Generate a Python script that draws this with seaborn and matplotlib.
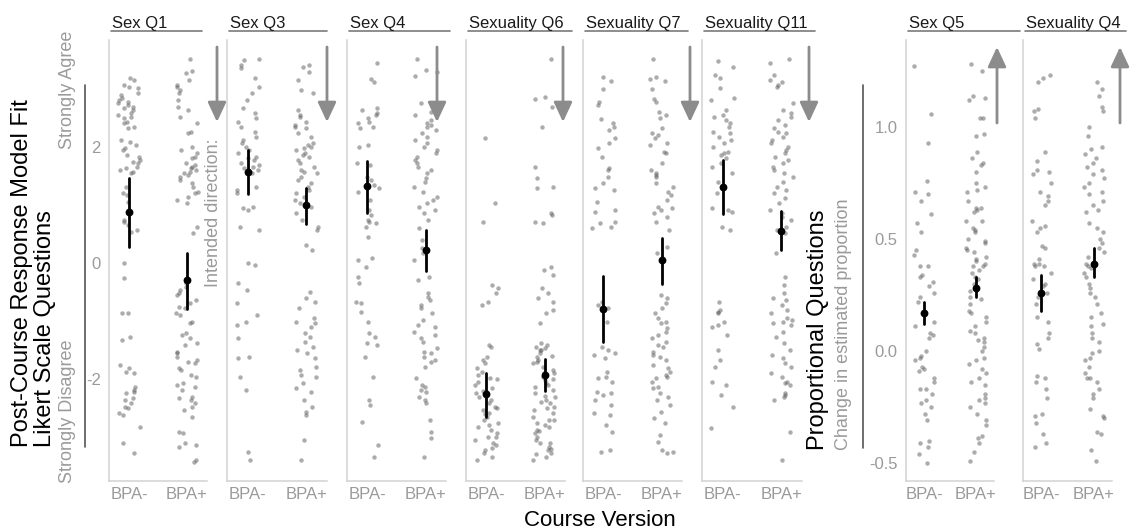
import numpy as np
import pandas as pd
import matplotlib
matplotlib.use("Agg")
import matplotlib.pyplot as plt
import seaborn as sns
from matplotlib.lines import Line2D

# ---------------- data ----------------
facets = ["Sex Q1", "Sex Q3", "Sex Q4", "Sexuality Q6", "Sexuality Q7",
          "Sexuality Q11", "Sex Q5", "Sexuality Q4"]
versions = ["BPA-", "BPA+"]

sex_q1_minus = [3.19, 3.16, 3.07, 3.03, 3.02, 2.93, 2.90, 2.84, 2.81, 2.78, 2.76, 2.72, 2.69, 2.67,
                2.64, 2.59, 2.55, 2.52, 2.50, 2.43, 2.41, 2.34, 2.33, 2.12, 2.09, 2.03, 1.98, 1.95,
                1.86, 1.83, 1.78, 1.74, 1.72, 1.66, 1.64, 1.60, 1.57, 1.55, 1.31, 1.21, 1.17, 1.05,
                0.74, 0.71, 0.66, 0.57, 0.53, 0.0, -0.26, -0.86, -0.86, -1.33, -1.28, -1.76, -1.81,
                -1.88, -1.90, -2.14, -2.19, -2.22, -2.24, -2.33, -2.36, -2.41, -2.48, -2.50, -2.59,
                -2.62, -2.83, -3.10, -3.28]
sex_q1_plus = [3.52, 3.31, 3.28, 3.16, 3.07, 3.03, 2.98, 2.93, 2.81, 2.69, 2.64, 2.52, 2.41, 2.26,
               2.24, 2.0, 1.95, 1.90, 1.83, 1.81, 1.72, 1.69, 1.66, 1.64, 1.60, 1.57, 1.55, 1.52,
               1.48, 1.43, 1.38, 1.31, 1.22, 1.21, 1.14, 1.09, 1.03, 0.62, 0.52, -0.35, -0.42,
               -0.47, -0.52, -0.55, -0.64, -0.69, -0.76, -0.78, -0.86, -0.90, -1.02, -1.03, -1.21,
               -1.24, -1.29, -1.38, -1.41, -1.53, -1.55, -1.62, -1.67, -1.71, -1.72, -1.81, -1.84,
               -1.93, -1.97, -2.07, -2.10, -2.14, -2.19, -2.31, -2.33, -2.36, -2.41, -2.48, -2.53,
               -2.66, -2.91, -2.93, -3.10, -3.14, -3.17, -3.40, -3.43]
sex_q3_minus = [3.52, 3.50, 3.41, 3.36, 3.19, 3.03, 2.93, 2.81, 2.67, 2.59, 2.50, 2.43, 2.34, 2.26,
                2.17, 2.12, 2.07, 2.0, 1.95, 1.90, 1.83, 1.81, 1.78, 1.72, 1.69, 1.66, 1.64, 1.60,
                1.55, 1.31, 1.26, 1.21, 0.97, 0.95, 0.91, 0.62, 0.57, 0.0, -0.03, -0.34, -0.47,
                -0.69, -0.90, -1.02, -1.07, -1.29, -1.62, -1.64, -1.97, -2.19, -3.26, -3.40]
sex_q3_plus = [3.41, 3.38, 3.29, 3.16, 2.98, 2.93, 2.64, 2.55, 2.52, 2.43, 2.38, 2.34, 2.33, 2.24,
               2.17, 2.07, 2.03, 2.0, 1.98, 1.95, 1.90, 1.86, 1.83, 1.78, 1.72, 1.66, 1.60, 1.57,
               1.55, 1.48, 1.43, 1.38, 1.31, 1.26, 1.21, 1.14, 1.09, 1.03, 0.97, 0.86, 0.74, 0.62,
               0.57, 0.31, 0.22, -0.50, -0.60, -0.67, -0.78, -0.95, -1.02, -1.03, -1.10, -1.21,
               -1.28, -1.36, -1.45, -1.50, -1.55, -1.64, -1.79, -1.84, -1.93, -1.97, -2.07, -2.16,
               -2.22, -2.36, -2.48, -2.57, -2.62, -3.05, -3.40]
sex_q4_minus = [3.45, 3.17, 3.12, 2.67, 2.64, 2.59, 2.55, 2.50, 2.43, 2.41, 2.34, 2.33, 2.03, 2.0,
                1.72, 1.69, 1.48, 1.43, 1.34, 1.29, 1.22, 1.09, 0.91, 0.83, 0.74, 0.71, 0.69, 0.62,
                0.45, 0.09, 0.05, -0.07, -0.24, -0.34, -0.67, -0.69, -0.84, -1.02, -1.21, -1.28,
                -1.38, -1.41, -1.62, -1.97, -2.36, -2.45, -2.74, -3.14, -3.34]
sex_q4_plus = [3.52, 3.33, 3.29, 3.22, 2.76, 2.60, 2.55, 2.47, 2.41, 2.38, 2.34, 2.29, 2.24, 2.17,
               2.12, 2.07, 2.0, 1.95, 1.90, 1.83, 1.78, 1.72, 1.66, 1.60, 1.55, 1.47, 1.40, 1.31,
               1.22, 1.14, 1.09, 1.03, 0.97, 0.91, 0.86, 0.74, 0.60, 0.40, 0.26, 0.17, 0.05, -0.24,
               -0.29, -0.52, -0.59, -0.64, -0.72, -0.78, -0.86, -0.98, -1.07, -1.10, -1.19, -1.24,
               -1.29, -1.36, -1.47, -1.53, -1.55, -1.62, -1.67, -1.71, -1.79, -1.98, -2.10, -2.14,
               -2.19, -2.22, -2.31, -2.36, -2.41, -2.71, -2.91, -3.02, -3.34]
sexuality_q6_minus = [2.16, 1.03, 0.71, -0.38, -0.43, -0.52, -0.67, -0.72, -1.41, -1.45, -1.62,
                      -1.67, -1.72, -1.81, -1.88, -1.93, -1.98, -2.0, -2.05, -2.10, -2.16, -2.2,
                      -2.22, -2.24, -2.31, -2.36, -2.41, -2.48, -2.5, -2.53, -2.59, -2.6, -2.66,
                      -2.71, -2.76, -2.8, -2.83, -2.88, -2.93, -3.0, -3.0, -3.05, -3.10, -3.14,
                      -3.19, -3.22, -3.28, -3.34, -3.40]
sexuality_q6_plus = [3.52, 2.86, 2.83, 2.69, 2.34, 1.66, 1.47, 1.31, 1.29, 0.86, 0.83, 0.71, 0.69,
                     -0.07, -0.12, -0.21, -0.43, -0.52, -0.60, -0.67, -0.81, -0.86, -1.03, -1.38,
                     -1.41, -1.45, -1.47, -1.5, -1.50, -1.55, -1.6, -1.62, -1.67, -1.7, -1.72,
                     -1.79, -1.84, -1.9, -1.90, -1.97, -2.0, -2.02, -2.07, -2.1, -2.14, -2.19,
                     -2.24, -2.3, -2.31, -2.36, -2.4, -2.41, -2.48, -2.5, -2.53, -2.59, -2.66,
                     -2.7, -2.71, -2.76, -2.8, -2.83, -2.88, -2.9, -2.93, -3.0, -3.05, -3.1, -3.10,
                     -3.17, -3.2, -3.22, -3.28, -3.3, -3.34, -3.40]
sexuality_q7_minus = [3.21, 3.14, 3.0, 2.78, 2.72, 2.48, 2.41, 2.34, 2.29, 2.16, 2.07, 1.98, 1.83,
                      1.64, 1.60, 1.48, 1.38, 1.29, 1.26, 1.05, 0.91, 0.88, 0.71, 0.69, 0.62, 0.60,
                      -0.67, -0.72, -0.78, -1.02, -1.45, -1.50, -1.55, -1.59, -1.64, -1.88, -1.97,
                      -1.98, -2.05, -2.22, -2.24, -2.28, -2.36, -2.45, -2.59, -2.62, -2.79, -2.91,
                      -3.22, -3.26]
sexuality_q7_plus = [3.52, 3.21, 3.17, 3.14, 3.0, 2.83, 2.78, 2.60, 2.55, 2.50, 2.33, 2.24, 2.21,
                     2.16, 2.07, 2.03, 1.91, 1.90, 1.72, 1.60, 1.55, 1.52, 1.48, 1.38, 1.31, 1.22,
                     1.17, 1.09, 0.97, 0.95, 0.91, 0.86, 0.79, 0.71, 0.57, 0.28, 0.17, -0.55, -0.60,
                     -0.69, -0.78, -0.86, -0.95, -1.02, -1.03, -1.12, -1.19, -1.24, -1.29, -1.36,
                     -1.41, -1.45, -1.53, -1.59, -1.62, -1.67, -1.76, -1.81, -1.88, -1.93, -1.97,
                     -1.98, -2.05, -2.14, -2.16, -2.24, -2.31, -2.36, -2.45, -2.57, -2.67, -2.76,
                     -2.97, -3.09, -3.22, -3.26, -3.28]
sexuality_q11_minus = [3.48, 3.38, 3.24, 3.19, 3.02, 2.84, 2.81, 2.64, 2.55, 2.52, 2.47, 2.41,
                       2.34, 2.26, 2.24, 2.17, 2.12, 2.07, 2.0, 1.91, 1.90, 1.86, 1.81, 1.72, 1.66,
                       1.55, 1.40, 1.21, 0.95, 0.91, 0.88, 0.62, 0.57, -0.67, -0.81, -0.84, -0.86,
                       -1.02, -1.07, -1.10, -1.24, -1.50, -1.67, -1.79, -2.05, -2.10, -2.28, -2.48,
                       -2.84]
sexuality_q11_plus = [3.52, 3.45, 3.24, 3.16, 3.12, 3.07, 3.03, 2.76, 2.64, 2.59, 2.52, 2.47, 2.38,
                      2.33, 2.26, 2.24, 2.17, 2.12, 2.07, 2.0, 1.95, 1.90, 1.83, 1.78, 1.72, 1.66,
                      1.60, 1.55, 1.48, 1.40, 1.31, 1.26, 1.21, 1.12, 1.03, 0.91, 0.86, 0.79, 0.74,
                      0.62, 0.57, 0.52, 0.17, -0.24, -0.38, -0.52, -0.60, -0.64, -0.72, -0.81,
                      -0.86, -0.95, -0.98, -1.02, -1.03, -1.07, -1.19, -1.28, -1.38, -1.50, -1.59,
                      -1.64, -1.72, -1.79, -1.90, -1.97, -2.05, -2.07, -2.10, -2.24, -2.28, -2.31,
                      -2.36, -2.91, -3.40]
sex_q5_minus = [1.27, 1.06, 0.93, 0.76, 0.71, 0.70, 0.67, 0.61, 0.57, 0.53, 0.45, 0.43, 0.38, 0.38,
                0.34, 0.33, 0.31, 0.29, 0.26, 0.24, 0.22, 0.13, 0.11, 0.08, 0.07, 0.06, 0.0, -0.02,
                -0.03, -0.04, -0.07, -0.08, -0.09, -0.12, -0.14, -0.17, -0.17, -0.19, -0.22, -0.23,
                -0.25, -0.28, -0.31, -0.40, -0.41, -0.43, -0.46, -0.50]
sex_q5_plus = [1.28, 1.25, 1.14, 1.13, 1.12, 1.04, 1.04, 0.97, 0.96, 0.89, 0.86, 0.84, 0.83, 0.80,
               0.75, 0.73, 0.72, 0.71, 0.67, 0.64, 0.64, 0.63, 0.62, 0.58, 0.58, 0.55, 0.54, 0.53,
               0.50, 0.49, 0.48, 0.46, 0.45, 0.44, 0.42, 0.41, 0.39, 0.38, 0.40, 0.38, 0.36, 0.35,
               0.33, 0.32, 0.30, 0.27, 0.24, 0.23, 0.21, 0.18, 0.17, 0.15, 0.13, 0.11, 0.09, 0.08,
               0.06, 0.05, 0.04, 0.02, 0.0, -0.03, -0.04, -0.06, -0.08, -0.10, -0.12, -0.14, -0.15,
               -0.19, -0.21, -0.22, -0.23, -0.25, -0.28, -0.31, -0.33, -0.38, -0.39, -0.41, -0.45,
               -0.49]
sexuality_q4_minus = [1.23, 1.22, 1.20, 1.08, 1.07, 1.04, 0.89, 0.85, 0.81, 0.80, 0.79, 0.75, 0.71,
                      0.69, 0.67, 0.65, 0.58, 0.56, 0.55, 0.53, 0.47, 0.46, 0.41, 0.39, 0.38, 0.39,
                      0.38, 0.35, 0.32, 0.30, 0.29, 0.26, 0.24, 0.21, 0.15, 0.13, 0.08, 0.06, 0.03,
                      0.01, -0.11, -0.12, -0.14, -0.17, -0.21, -0.28, -0.29, -0.32, -0.37, -0.41,
                      -0.43]
sexuality_q4_plus = [1.20, 1.17, 1.14, 1.09, 1.07, 1.00, 0.96, 0.91, 0.90, 0.88, 0.86, 0.84, 0.82,
                     0.81, 0.79, 0.77, 0.75, 0.73, 0.71, 0.70, 0.67, 0.65, 0.63, 0.62, 0.57, 0.55,
                     0.53, 0.50, 0.48, 0.46, 0.44, 0.42, 0.39, 0.38, 0.39, 0.37, 0.35, 0.33, 0.30,
                     0.28, 0.26, 0.24, 0.21, 0.17, 0.15, 0.12, 0.11, 0.08, 0.06, 0.04, 0.0, -0.01,
                     -0.03, -0.04, -0.07, -0.10, -0.12, -0.12, -0.14, -0.17, -0.19, -0.21, -0.26,
                     -0.29, -0.30, -0.36, -0.37, -0.44, -0.49]

responses_minus = [sex_q1_minus, sex_q3_minus, sex_q4_minus, sexuality_q6_minus,
                   sexuality_q7_minus, sexuality_q11_minus, sex_q5_minus, sexuality_q4_minus]
responses_plus = [sex_q1_plus, sex_q3_plus, sex_q4_plus, sexuality_q6_plus,
                  sexuality_q7_plus, sexuality_q11_plus, sex_q5_plus, sexuality_q4_plus]

# model fits (estimate and interval) per facet
fit_minus_mean = [0.88, 1.57, 1.33, -2.26, -0.79, 1.31, 0.17, 0.26]
fit_minus_lo = [0.28, 1.19, 0.87, -2.65, -1.36, 0.84, 0.12, 0.18]
fit_minus_hi = [1.47, 1.95, 1.76, -1.90, -0.22, 1.77, 0.22, 0.34]
fit_plus_mean = [-0.30, 1.00, 0.22, -1.93, 0.05, 0.55, 0.28, 0.39]
fit_plus_lo = [-0.80, 0.68, -0.14, -2.20, -0.36, 0.22, 0.24, 0.33]
fit_plus_hi = [0.18, 1.30, 0.56, -1.66, 0.43, 0.90, 0.33, 0.46]

intended_up = [False, False, False, False, False, False, True, True]

likert_ticks = [-2, 0, 2]
prop_ticks = [-0.5, 0.0, 0.5, 1.0]
prop_ticklabels = ["-0.5", "0.0", "0.5", "1.0"]

# ---------------- layout (pixels) ----------------
W, H = 1130, 530
panel_left = [109, 227, 347, 466, 583, 702, 906, 1023]
panel_right = [207, 327, 446, 565, 682, 802, 994, 1112]
panel_top, panel_bottom = 40, 481
strip_end = [202, 327, 450, 572, 688, 815, 1020, 1126]
arrow_x = [217, 327, 437, 563, 690, 809, 997, 1120]

POINT_C = "#5a5a5a"
GRAY_TXT = "#9a9a9a"
SPINE_C = "#d2d2d2"

sns.set_style("white")
plt.rcParams["font.family"] = ["Liberation Sans", "DejaVu Sans"]
plt.rcParams["axes.unicode_minus"] = False

rows = []
for f, mlist, plist in zip(facets, responses_minus, responses_plus):
    for v in mlist:
        rows.append((f, "BPA-", v))
    for v in plist:
        rows.append((f, "BPA+", v))
df = pd.DataFrame(rows, columns=["facet", "version", "value"])

fit_rows = []
for i, f in enumerate(facets):
    for v in (fit_minus_lo[i], fit_minus_mean[i], fit_minus_hi[i]):
        fit_rows.append((f, "BPA-", v))
    for v in (fit_plus_lo[i], fit_plus_mean[i], fit_plus_hi[i]):
        fit_rows.append((f, "BPA+", v))
fit_df = pd.DataFrame(fit_rows, columns=["facet", "version", "value"])

fig = plt.figure(figsize=(W / 100, H / 100), dpi=100)


def fx(x):
    return x / W


def fy(y):
    return 1 - y / H


np.random.seed(3)
for i, f in enumerate(facets):
    l, r = panel_left[i], panel_right[i]
    ax = fig.add_axes([fx(l), fy(panel_bottom), (r - l) / W, (panel_bottom - panel_top) / H])
    sub = df[df.facet == f]
    sns.stripplot(data=sub, x="version", y="value", order=versions, jitter=0.2,
                  size=3.2, color=POINT_C, alpha=0.5, linewidth=0, ax=ax, zorder=2)
    sns.pointplot(data=fit_df[fit_df.facet == f], x="version", y="value", order=versions,
                  estimator="median", errorbar=lambda v: (v.min(), v.max()),
                  color="black", linestyle="none", markersize=3.6,
                  err_kws={"linewidth": 2.0}, ax=ax, zorder=4)
    ax.set_xlim(-0.35, 1.35)
    prop = i >= 6
    if prop:
        ax.set_ylim(-0.58, 1.388)
        ax.set_yticks(prop_ticks)
        ax.set_yticklabels(prop_ticklabels if i == 6 else [])
    else:
        ax.set_ylim(-3.76, 3.845)
        ax.set_yticks(likert_ticks)
        ax.set_yticklabels([str(t) for t in likert_ticks] if i == 0 else [])
    ax.set_xlabel("")
    ax.set_ylabel("")
    ax.tick_params(axis="both", length=0, labelsize=12, labelcolor=GRAY_TXT)
    ax.tick_params(axis="y", pad=6)
    ax.tick_params(axis="x", pad=4)
    for s in ("top", "right"):
        ax.spines[s].set_visible(False)
    for s in ("left", "bottom"):
        ax.spines[s].set_color(SPINE_C)
        ax.spines[s].set_linewidth(1.1)
    ax.grid(False)

    # strip title with underline
    fig.text(fx(l + 3), fy(28), f, ha="left", va="baseline", fontsize=12, color="#1a1a1a")
    fig.add_artist(Line2D([fx(l + 2), fx(strip_end[i])], [fy(30.5), fy(30.5)],
                          color="#7a7a7a", lw=1.2))

    # intended-direction arrow
    axx = arrow_x[i]
    if intended_up[i]:
        tail, tip = 123, 47
    else:
        tail, tip = 47, 122
    ax.annotate("", xy=(axx, H - tip), xytext=(axx, H - tail), xycoords="figure pixels",
                textcoords="figure pixels",
                arrowprops=dict(arrowstyle="-|>,head_length=0.6,head_width=0.28",
                                color="#8c8c8c", lw=2.0, shrinkA=0, shrinkB=0,
                                mutation_scale=20), annotation_clip=False)

# axis side lines
fig.add_artist(Line2D([fx(85), fx(85)], [fy(85), fy(447)], color="#555555", lw=1.2))
fig.add_artist(Line2D([fx(863), fx(863)], [fy(85), fy(448)], color="#555555", lw=1.2))

# left labels
fig.text(fx(22), fy(447), "Post-Course Response Model Fit", rotation=90, ha="center",
         va="bottom", fontsize=17, color="black")
fig.text(fx(45), fy(447), "Likert Scale Questions", rotation=90, ha="center",
         va="bottom", fontsize=17, color="black")
fig.text(fx(67), fy(31), "Strongly Agree", rotation=90, ha="center", va="top",
         fontsize=13, color=GRAY_TXT)
fig.text(fx(67), fy(483), "Strongly Disagree", rotation=90, ha="center", va="bottom",
         fontsize=13, color=GRAY_TXT)
fig.text(fx(213), fy(213), "Intended direction:", rotation=90, ha="center", va="center",
         fontsize=13, color=GRAY_TXT)

# right labels
fig.text(fx(818), fy(450), "Proportional Questions", rotation=90, ha="center",
         va="bottom", fontsize=17, color="black")
fig.text(fx(843), fy(450), "Change in estimated proportion", rotation=90, ha="center",
         va="bottom", fontsize=13, color=GRAY_TXT)

fig.text(fx(600), fy(521), "Course Version", ha="center", va="center", fontsize=16,
         color="black")

fig.savefig("out.png", dpi=100)
